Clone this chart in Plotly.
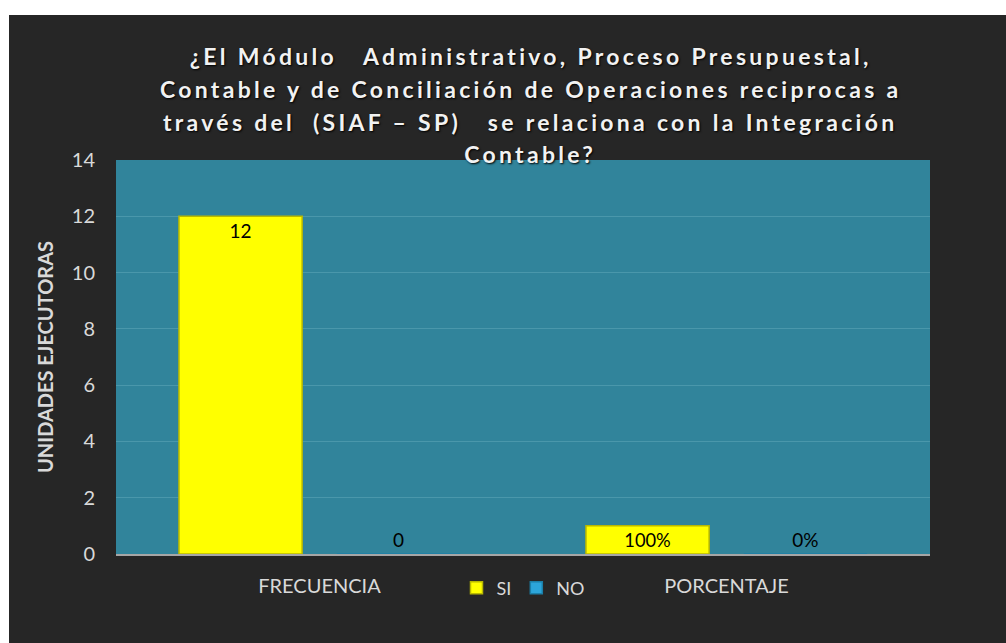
import plotly.graph_objects as go

categories = ["FRECUENCIA", "PORCENTAJE"]
si_values = [12, 1]
no_values = [0, 0]
si_labels = ["12", "100%"]
no_labels = ["0", "0%"]
y_ticks = [0, 2, 4, 6, 8, 10, 12, 14]

title_lines = [
    "¿El Módulo\u00a0\u00a0\u00a0Administrativo, Proceso Presupuestal,",
    "Contable y de Conciliación de Operaciones reciprocas a",
    "través del\u00a0\u00a0(SIAF – SP)\u00a0\u00a0\u00a0se relaciona con la Integración",
    "Contable?",
]

W, H = 1006, 643
L, R, T, B = 116, 76, 160, 89
pw, ph = W - L - R, H - T - B

def px_x(x):
    return (x - L) / pw

def px_y(y):
    return (H - B - y) / ph

DARK = "#262626"
TEAL = "#31849B"
LIGHT = "#D9D9D9"

fig = go.Figure()
fig.add_trace(go.Bar(
    name="SI", x=categories, y=si_values, text=si_labels,
    textposition="inside", insidetextanchor="end",
    textfont=dict(family="Lato", size=19, color="#000000"),
    marker=dict(color="#FFFF00", line=dict(color="#B8B800", width=1.5)),
))
fig.add_trace(go.Bar(
    name="NO", x=categories, y=no_values, text=no_labels,
    textposition="outside", cliponaxis=False,
    textfont=dict(family="Lato", size=19, color="#000000"),
    marker=dict(color="#2CA5DA", line=dict(color="#1B7FA8", width=1.5)),
))

shapes = [
    dict(type="rect", xref="paper", yref="paper", layer="below",
         x0=px_x(9), x1=px_x(W + 5), y0=px_y(H + 5), y1=px_y(15),
         fillcolor=DARK, line=dict(width=0)),
    dict(type="rect", xref="paper", yref="paper", layer="below",
         x0=0, x1=1, y0=0, y1=1, fillcolor=TEAL, line=dict(width=0)),
]

line_centers = [56, 89, 122, 154]
annotations = []
for txt, yc in zip(title_lines, line_centers):
    annotations.append(dict(
        text="<b>" + txt + "</b>", xref="paper", yref="paper",
        x=px_x(530), y=px_y(yc), xanchor="center", yanchor="middle",
        showarrow=False,
        font=dict(family="Lato", size=23, color="#F2F2F2",
                  shadow="1px 1px 2px #000000"),
    ))

fig.update_layout(
    width=W, height=H,
    margin=dict(l=L, r=R, t=T, b=B, autoexpand=False),
    paper_bgcolor="#FFFFFF",
    plot_bgcolor="rgba(0,0,0,0)",
    barmode="group", bargap=0.224, bargroupgap=0.22,
    shapes=shapes, annotations=annotations,
    showlegend=True,
    legend=dict(orientation="h", x=px_x(523), y=px_y(588),
                xanchor="center", yanchor="middle",
                font=dict(family="Lato", size=18, color=LIGHT),
                bgcolor="rgba(0,0,0,0)", itemwidth=30),
    font=dict(family="Lato", color=LIGHT),
)
fig.update_yaxes(
    range=[0, 14], tickvals=y_ticks, showgrid=True,
    gridcolor="#4A97AB", gridwidth=1, zeroline=False,
    tickfont=dict(family="Lato", size=20, color=LIGHT),
    ticklabelstandoff=20,
    title=dict(text="<b>UNIDADES EJECUTORAS</b>",
               font=dict(family="Lato", size=20, color=LIGHT), standoff=12),
    automargin=False,
)
fig.update_xaxes(
    showline=True, linecolor="#A6A6A6", linewidth=2,
    tickfont=dict(family="Lato", size=20, color=LIGHT),
    ticklabelstandoff=13, automargin=False,
)

post = (
    "document.body.style.margin='0';"
    "document.querySelectorAll('.annotation-text').forEach(function(e){"
    "e.style.letterSpacing='3.3px';});"
)
fig.write_html("out.html", post_script=post, config={"displayModeBar": False})
